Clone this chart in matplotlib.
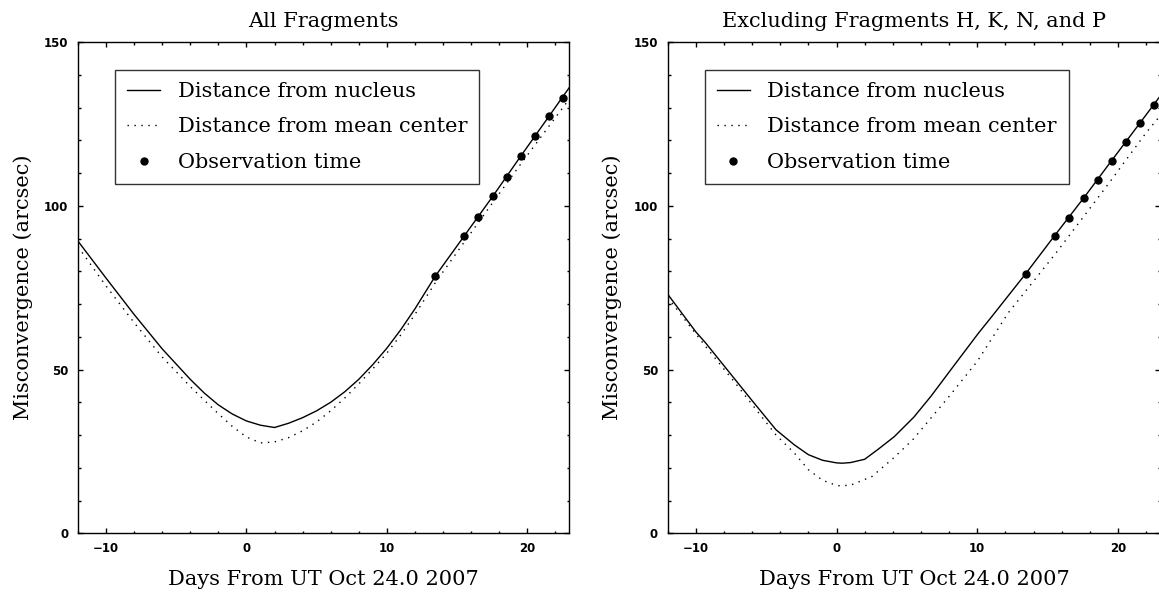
import matplotlib

matplotlib.use("Agg")
import matplotlib.pyplot as plt
from matplotlib.ticker import MultipleLocator

# Panel 1: all fragments
all_nuc_days = [-12, -10, -8, -6, -4, -3, -2, -1, 0, 1, 2, 3, 4, 5, 6, 7, 8, 9,
                10, 11, 12, 13.45, 15.5, 17.55, 19.55, 21.55, 23]
all_nuc_vals = [89.2, 77.9, 66.8, 56.3, 47.0, 42.8, 39.2, 36.4, 34.3, 33.0, 32.3,
                33.6, 35.3, 37.4, 40.0, 43.2, 47.0, 51.5, 56.5, 62.2, 68.5, 78.5,
                90.7, 102.9, 115.2, 127.3, 136.1]
all_mean_days = [-12, -10, -8, -6, -4, -3, -2, -1, 0, 1, 2, 3, 4, 5, 6, 7, 8, 9,
                 10, 11, 12, 13.5, 15.5, 17.5, 19.5, 21.5, 23]
all_mean_vals = [87.5, 75.5, 64.3, 53.8, 44.8, 40.6, 36.5, 32.6, 29.4, 27.6, 27.9,
                 29.2, 31.3, 34.0, 37.4, 41.3, 45.6, 50.2, 55.0, 60.6, 66.8, 76.8,
                 88.8, 100.7, 112.5, 124.0, 132.6]
all_obs_vals = [78.5, 90.7, 96.7, 102.9, 108.9, 115.2, 121.2, 127.3, 133.0]

# Panel 2: excluding fragments H, K, N and P
exc_nuc_days = [-12, -10, -9.3, -7.2, -6, -4.3, -3, -2, -1, 0, 0.4, 1, 2, 3, 4.1,
                5.5, 6.7, 8.5, 10.1, 11, 13.45, 15.5, 17.55, 19.55, 21.55, 23]
exc_nuc_vals = [73.0, 61.5, 58.1, 46.9, 40.5, 31.6, 27.0, 24.0, 22.3, 21.5, 21.4,
                21.6, 22.6, 25.8, 29.5, 35.5, 41.8, 52.1, 61.2, 66.0, 79.3, 90.9,
                102.3, 113.8, 125.2, 133.5]
exc_mean_days = [-12, -9.3, -7.2, -4.3, -3, -2, -1, 0, 0.3, 1, 2.5, 4, 5.4, 8, 10,
                 12.2, 15.6, 19.2, 22, 23]
exc_mean_vals = [72.0, 57.0, 45.9, 30.0, 24.5, 19.4, 16.2, 14.6, 14.5, 14.7, 17.3,
                 22.8, 28.5, 41.8, 52.5, 67.3, 85.6, 106.0, 122.3, 127.5]
exc_obs_vals = [79.3, 90.9, 96.4, 102.3, 107.8, 113.8, 119.4, 125.2, 130.7]

obs_days = [13.45, 15.5, 16.5, 17.55, 18.55, 19.55, 20.55, 21.55, 22.55]

titles = ["All Fragments", "Excluding Fragments H, K, N, and P"]
xlabel = "Days From UT Oct 24.0 2007"
ylabel = "Misconvergence (arcsec)"

label_font = "DejaVu Serif"
tick_font = "DejaVu Sans"
fs = 15

fig = plt.figure(figsize=(11.59, 5.95), dpi=100)
W, H = 1159.0, 595.0
ax1 = fig.add_axes([78 / W, (H - 533.3) / H, 491.3 / W, 491.3 / H])
ax2 = fig.add_axes([667.7 / W, (H - 533.3) / H, 492.5 / W, 491.3 / H])

panels = [
    (ax1, all_nuc_days, all_nuc_vals, all_mean_days, all_mean_vals, all_obs_vals),
    (ax2, exc_nuc_days, exc_nuc_vals, exc_mean_days, exc_mean_vals, exc_obs_vals),
]

for i, (ax, nd, nv, md, mv, ov) in enumerate(panels):
    ax.plot(nd, nv, color="black", lw=1.0, label="Distance from nucleus")
    ax.plot(md, mv, color="black", lw=1.0, linestyle=(0, (1, 4)),
            label="Distance from mean center")
    ax.plot(obs_days, ov, "o", color="black", ms=5, label="Observation time")

    ax.set_xlim(-12, 23)
    ax.set_ylim(0, 150)
    ax.xaxis.set_major_locator(MultipleLocator(10))
    ax.xaxis.set_minor_locator(MultipleLocator(2))
    ax.yaxis.set_major_locator(MultipleLocator(50))
    ax.yaxis.set_minor_locator(MultipleLocator(10))
    ax.tick_params(which="both", direction="in", top=True, right=True,
                   width=1.0, color="black")
    ax.tick_params(which="major", length=3.6, labelsize=8.5)
    ax.tick_params(which="minor", length=1.8)
    ax.tick_params(axis="x", which="major", pad=6)
    ax.tick_params(axis="y", which="major", pad=7)
    for lab in ax.get_xticklabels() + ax.get_yticklabels():
        lab.set_family(tick_font)
        lab.set_fontweight("bold")
    for sp in ax.spines.values():
        sp.set_linewidth(1.0)

    ax.set_title(titles[i], family=label_font, fontsize=fs, pad=11)
    ax.set_xlabel(xlabel, family=label_font, fontsize=fs, labelpad=11)
    ax.set_ylabel(ylabel, family=label_font, fontsize=fs, labelpad=8)

    leg = ax.legend(loc="upper left", bbox_to_anchor=(0.0755, 0.943),
                    borderaxespad=0, fancybox=False, frameon=True,
                    prop={"family": label_font, "size": fs}, handlelength=1.6,
                    handletextpad=0.83, labelspacing=0.79, borderpad=0.57)
    leg.get_frame().set_edgecolor("black")
    leg.get_frame().set_linewidth(1.0)

fig.savefig("out.png", dpi=100)
